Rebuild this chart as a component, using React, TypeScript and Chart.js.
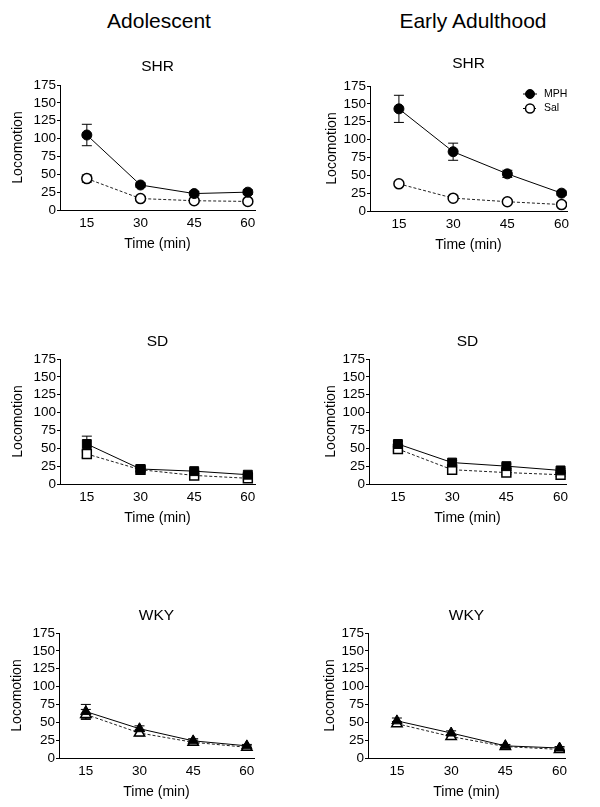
import React, { useEffect, useRef } from "react";
import { Chart, registerables } from "chart.js";

Chart.register(...registerables);

const FONT = '"Liberation Sans", Arial, Helvetica, sans-serif';

// ---------- data ----------
const timePoints = [15, 30, 45, 60];
const yTickValues = [0, 25, 50, 75, 100, 125, 150, 175];
const groupTitles = ["Adolescent", "Early Adulthood"];
const strainNames = ["SHR", "SD", "WKY"];
const seriesNames = ["MPH", "Sal"];
const xAxisLabel = "Time (min)";
const yAxisLabel = "Locomotion";

const adolSHR_MPH = [105, 35, 23, 25];
const adolSHR_MPH_err = [15, 3, 3, 3];
const adolSHR_Sal = [44, 16, 13, 12];
const adolSHR_Sal_err = [5, 3, 2, 2];

const earlySHR_MPH = [143, 83, 52, 25];
const earlySHR_MPH_err = [19, 12, 5, 3];
const earlySHR_Sal = [38, 18, 13, 9];
const earlySHR_Sal_err = [3, 3, 2, 2];

const adolSD_MPH = [56, 21, 18, 13];
const adolSD_MPH_err = [11, 3, 3, 3];
const adolSD_Sal = [42, 20, 12, 8];
const adolSD_Sal_err = [5, 2, 2, 2];

const earlySD_MPH = [56, 30, 25, 19];
const earlySD_MPH_err = [4, 3, 3, 3];
const earlySD_Sal = [49, 20, 16, 13];
const earlySD_Sal_err = [3, 3, 3, 2];

const adolWKY_MPH = [65, 41, 24, 17];
const adolWKY_MPH_err = [10, 4, 3, 2];
const adolWKY_Sal = [61, 35, 22, 15];
const adolWKY_Sal_err = [7, 4, 3, 2];

const earlyWKY_MPH = [52, 35, 17, 14];
const earlyWKY_MPH_err = [4, 3, 2, 2];
const earlyWKY_Sal = [48, 30, 16, 12];
const earlyWKY_Sal_err = [3, 3, 2, 2];

// ---------- plugins ----------
const errorBarPlugin = {
  id: "errorBars",
  beforeDatasetsDraw(chart: any) {
    const { ctx } = chart;
    const xs = chart.scales.x;
    const ys = chart.scales.y;
    ctx.save();
    ctx.strokeStyle = "#000";
    ctx.lineWidth = 1;
    chart.data.datasets.forEach((ds: any) => {
      const errs = ds.errors;
      if (!errs) return;
      ds.data.forEach((p: any, i: number) => {
        const e = errs[i];
        const x = xs.getPixelForValue(p.x);
        const yT = ys.getPixelForValue(p.y + e);
        const yB = ys.getPixelForValue(p.y - e);
        ctx.beginPath();
        ctx.moveTo(x, yT);
        ctx.lineTo(x, yB);
        ctx.moveTo(x - 5, yT);
        ctx.lineTo(x + 5, yT);
        ctx.moveTo(x - 5, yB);
        ctx.lineTo(x + 5, yB);
        ctx.stroke();
      });
    });
    ctx.restore();
  },
};

const areaTitlePlugin = {
  id: "areaTitle",
  afterDraw(chart: any, _args: any, opts: any) {
    if (!opts || !opts.text) return;
    const { ctx, chartArea } = chart;
    ctx.save();
    ctx.fillStyle = "#000";
    ctx.font = `${opts.size}px ${FONT}`;
    ctx.textAlign = "center";
    ctx.textBaseline = "middle";
    ctx.fillText(opts.text, (chartArea.left + chartArea.right) / 2, chartArea.top - opts.offset);
    ctx.restore();
  },
};

const cornerLegendPlugin = {
  id: "cornerLegend",
  afterDatasetsDraw(chart: any, _args: any, opts: any) {
    if (!opts || !opts.display) return;
    const { ctx, chartArea } = chart;
    chart.data.datasets.forEach((ds: any, i: number) => {
      const cx = chartArea.right + opts.dx;
      const cy = chartArea.top + opts.dy + i * opts.gap;
      ctx.save();
      ctx.strokeStyle = "#000";
      ctx.lineWidth = 1;
      ctx.setLineDash(ds.borderDash || []);
      ctx.beginPath();
      ctx.moveTo(cx - 7, cy);
      ctx.lineTo(cx + 7, cy);
      ctx.stroke();
      ctx.setLineDash([]);
      ctx.beginPath();
      ctx.arc(cx, cy, 4.5, 0, Math.PI * 2);
      ctx.fillStyle = ds.pointBackgroundColor;
      ctx.fill();
      ctx.lineWidth = ds.pointBorderWidth;
      ctx.strokeStyle = "#000";
      ctx.stroke();
      ctx.fillStyle = "#000";
      ctx.font = `10.5px ${FONT}`;
      ctx.textBaseline = "middle";
      ctx.textAlign = "left";
      ctx.fillText(ds.label, cx + 14, cy);
      ctx.restore();
    });
  },
};

// ---------- panel ----------
type PanelProps = {
  title: string;
  mph: number[];
  mphErr: number[];
  sal: number[];
  salErr: number[];
  pointStyle: string;
  pointRadius: number;
  legend: boolean;
  left: number;
  top: number;
  xMin: number;
  padRight: number;
  yTitlePad: number;
  titleOffset: number;
};

function Panel(p: PanelProps) {
  const ref = useRef<HTMLCanvasElement>(null);
  useEffect(() => {
    if (!ref.current) return;
    const toPts = (vals: number[]) => timePoints.map((t, i) => ({ x: t, y: vals[i] }));
    const chart = new Chart(ref.current, {
      type: "line",
      data: {
        datasets: [
          {
            label: seriesNames[0],
            data: toPts(p.mph),
            errors: p.mphErr,
            borderColor: "#000",
            borderWidth: 1,
            pointStyle: p.pointStyle,
            pointRadius: p.pointRadius,
            pointBackgroundColor: "#000",
            pointBorderColor: "#000",
            pointBorderWidth: 1,
            tension: 0,
          } as any,
          {
            label: seriesNames[1],
            data: toPts(p.sal),
            errors: p.salErr,
            borderColor: "#222",
            borderWidth: 1,
            borderDash: [3, 2],
            pointStyle: p.pointStyle,
            pointRadius: p.pointRadius,
            pointBackgroundColor: "#fff",
            pointBorderColor: "#000",
            pointBorderWidth: 1.5,
            tension: 0,
          } as any,
        ],
      },
      options: {
        responsive: false,
        animation: false,
        events: [],
        layout: { padding: { left: 0, right: p.padRight, top: 35, bottom: 0 } },
        plugins: {
          legend: { display: false },
          tooltip: { enabled: false },
          title: { display: false },
          areaTitle: { text: p.title, size: 15.5, offset: p.titleOffset },
          cornerLegend: { display: p.legend, dx: -37, dy: 8, gap: 14.5 },
        } as any,
        scales: {
          x: {
            type: "linear",
            min: p.xMin,
            max: p.xMin + 54.5,
            afterBuildTicks: (s: any) => {
              s.ticks = timePoints.map((v) => ({ value: v }));
            },
            afterFit: (s: any) => {
              s.height = 45;
            },
            grid: { display: false, drawTicks: false },
            border: { display: true, color: "#000", width: 1 },
            ticks: { color: "#000", font: { family: FONT, size: 13.5 }, padding: 5, maxRotation: 0, autoSkip: false },
            title: {
              display: true,
              text: xAxisLabel,
              color: "#000",
              font: { family: FONT, size: 14 },
              padding: { top: 0, bottom: 2.5 },
            },
          },
          y: {
            type: "linear",
            min: 0,
            max: 175,
            afterBuildTicks: (s: any) => {
              s.ticks = yTickValues.map((v) => ({ value: v }));
            },
            afterFit: (s: any) => {
              s.width = 60;
            },
            grid: {
              display: true,
              drawOnChartArea: false,
              drawTicks: true,
              tickLength: 3,
              color: "#000",
            },
            border: { display: true, color: "#000", width: 1 },
            ticks: { color: "#000", font: { family: FONT, size: 13.5 }, padding: 1, autoSkip: false },
            title: {
              display: true,
              text: yAxisLabel,
              color: "#000",
              font: { family: FONT, size: 14 },
              padding: { top: p.yTitlePad, bottom: 0 },
            },
          },
        },
      },
      plugins: [errorBarPlugin, cornerLegendPlugin, areaTitlePlugin],
    });
    return () => chart.destroy();
  }, []);
  return (
    <canvas
      ref={ref}
      width={300}
      height={205}
      style={{ position: "absolute", left: p.left, top: p.top, width: 300, height: 205 }}
    />
  );
}

export default function App() {
  const leftCol = { xMin: 7.5, padRight: 45, yTitlePad: 9.5 };
  const rightCol = { xMin: 7.0, padRight: 43, yTitlePad: 13.5 };
  const panels: PanelProps[] = [
    { title: strainNames[0], mph: adolSHR_MPH, mphErr: adolSHR_MPH_err, sal: adolSHR_Sal, salErr: adolSHR_Sal_err, pointStyle: "circle", pointRadius: 5, legend: false, left: 0, top: 50, titleOffset: 18, ...leftCol },
    { title: strainNames[0], mph: earlySHR_MPH, mphErr: earlySHR_MPH_err, sal: earlySHR_Sal, salErr: earlySHR_Sal_err, pointStyle: "circle", pointRadius: 5, legend: true, left: 310, top: 51, titleOffset: 22, ...rightCol },
    { title: strainNames[1], mph: adolSD_MPH, mphErr: adolSD_MPH_err, sal: adolSD_Sal, salErr: adolSD_Sal_err, pointStyle: "rect", pointRadius: 6.3, legend: false, left: 0, top: 324, titleOffset: 17.5, ...leftCol },
    { title: strainNames[1], mph: earlySD_MPH, mphErr: earlySD_MPH_err, sal: earlySD_Sal, salErr: earlySD_Sal_err, pointStyle: "rect", pointRadius: 6.3, legend: false, left: 309, top: 324, titleOffset: 17.5, ...rightCol },
    { title: strainNames[2], mph: adolWKY_MPH, mphErr: adolWKY_MPH_err, sal: adolWKY_Sal, salErr: adolWKY_Sal_err, pointStyle: "triangle", pointRadius: 6, legend: false, left: -1, top: 598, titleOffset: 17.5, ...leftCol },
    { title: strainNames[2], mph: earlyWKY_MPH, mphErr: earlyWKY_MPH_err, sal: earlyWKY_Sal, salErr: earlyWKY_Sal_err, pointStyle: "triangle", pointRadius: 6, legend: false, left: 308, top: 598, titleOffset: 17.5, ...rightCol },
  ];
  return (
    <div style={{ position: "absolute", left: 0, top: 0, width: 600, height: 807, background: "#fff", fontFamily: FONT, overflow: "hidden" }}>
      <div style={{ position: "absolute", left: 0, top: 9.5, width: 318, textAlign: "center", fontSize: 21, lineHeight: "21px", color: "#000" }}>
        {groupTitles[0]}
      </div>
      <div style={{ position: "absolute", left: 323, top: 9.5, width: 300, textAlign: "center", fontSize: 21, lineHeight: "21px", color: "#000" }}>
        {groupTitles[1]}
      </div>
      {panels.map((p, i) => (
        <Panel key={i} {...p} />
      ))}
    </div>
  );
}
